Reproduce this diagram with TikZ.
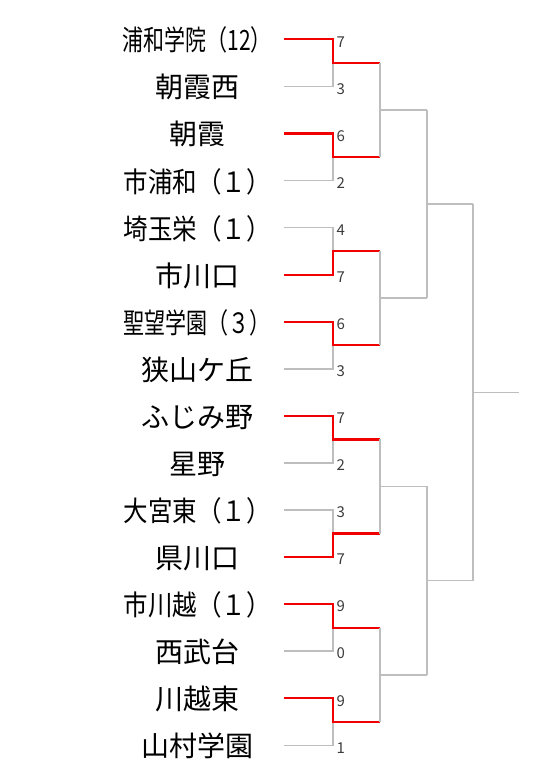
\documentclass[tikz,border=0pt]{standalone}
\usepackage{fontspec}
\setmainfont{Noto Sans CJK JP}
\usepackage{xcolor}
\usepackage{tikz}
\definecolor{wincol}{RGB}{240,0,0}
\definecolor{linecol}{RGB}{190,190,190}
\definecolor{scorecol}{RGB}{60,60,60}
\newcommand{\squeezed}[2]{\scalebox{#1}[1]{#2}}

\begin{document}
\begin{tikzpicture}[x=1pt,y=-47.07pt,
  team/.style={inner sep=0pt,minimum width=174pt,text height=26pt,text depth=3pt,font=\fontsize{28}{30}\selectfont},
  score/.style={anchor=west,inner sep=1.5pt,text=scorecol,font=\fontsize{15}{17}\selectfont},
  lose/.style={draw=linecol,line width=1.5pt},
  win/.style={draw=wincol,line width=2.3pt}]
        \useasboundingbox (0,-0.835) rectangle (552,15.502);
        \node[team] (t1) at (197,0) {\squeezed{0.75}{浦和学院（12）}};
        \node[team] (t2) at (197,1) {朝霞西};
        \node[team] (t3) at (197,2) {朝霞};
        \node[team] (t4) at (197,3) {\squeezed{0.875}{市浦和（１）}};
        \node[team] (t5) at (197,4) {\squeezed{0.875}{埼玉栄（１）}};
        \node[team] (t6) at (197,5) {市川口};
        \node[team] (t7) at (197,6) {\squeezed{0.75}{聖望学園（３）}};
        \node[team] (t8) at (197,7) {狭山ケ丘};
        \node[team] (t9) at (197,8) {ふじみ野};
        \node[team] (t10) at (197,9) {星野};
        \node[team] (t11) at (197,10) {\squeezed{0.875}{大宮東（１）}};
        \node[team] (t12) at (197,11) {県川口};
        \node[team] (t13) at (197,12) {\squeezed{0.875}{市川越（１）}};
        \node[team] (t14) at (197,13) {西武台};
        \node[team] (t15) at (197,14) {川越東};
        \node[team] (t16) at (197,15) {山村学園};
        \node[score] (s1) at (335,0.05) {7};
        \node[score] (s2) at (335,1.05) {3};
        \node[score] (s3) at (335,2.05) {6};
        \node[score] (s4) at (335,3.05) {2};
        \node[score] (s5) at (335,4.05) {4};
        \node[score] (s6) at (335,5.05) {7};
        \node[score] (s7) at (335,6.05) {6};
        \node[score] (s8) at (335,7.05) {3};
        \node[score] (s9) at (335,8.05) {7};
        \node[score] (s10) at (335,9.05) {2};
        \node[score] (s11) at (335,10.05) {3};
        \node[score] (s12) at (335,11.05) {7};
        \node[score] (s13) at (335,12.05) {9};
        \node[score] (s14) at (335,13.05) {0};
        \node[score] (s15) at (335,14.05) {9};
        \node[score] (s16) at (335,15.05) {1};
        \coordinate (m1) at (380,0.5); \coordinate (m2) at (380,2.5);
        \coordinate (m3) at (380,4.5); \coordinate (m4) at (380,6.5);
        \coordinate (m5) at (380,8.5); \coordinate (m6) at (380,10.5);
        \coordinate (m7) at (380,12.5); \coordinate (m8) at (380,14.5);
        \coordinate (n1) at (427,1.5); \coordinate (n2) at (427,5.5);
        \coordinate (n3) at (427,9.5); \coordinate (n4) at (427,13.5);
        \coordinate (o1) at (473,3.5); \coordinate (o2) at (473,11.5);
        \coordinate (f) at (519,7.5);
        \draw[lose] (t2.east) -- ++(49,0) |- (m1); \draw[win] (t1.east) -- ++(49,0) |- (m1);
        \draw[lose] (t4.east) -- ++(49,0) |- (m2); \draw[win] (t3.east) -- ++(49,0) |- (m2);
        \draw[lose] (t5.east) -- ++(49,0) |- (m3); \draw[win] (t6.east) -- ++(49,0) |- (m3);
        \draw[lose] (t8.east) -- ++(49,0) |- (m4); \draw[win] (t7.east) -- ++(49,0) |- (m4);
        \draw[lose] (t10.east) -- ++(49,0) |- (m5); \draw[win] (t9.east) -- ++(49,0) |- (m5);
        \draw[lose] (t11.east) -- ++(49,0) |- (m6); \draw[win] (t12.east) -- ++(49,0) |- (m6);
        \draw[lose] (t14.east) -- ++(49,0) |- (m7); \draw[win] (t13.east) -- ++(49,0) |- (m7);
        \draw[lose] (t16.east) -- ++(49,0) |- (m8); \draw[win] (t15.east) -- ++(49,0) |- (m8);
        \draw[lose] (m1) |- (n1); \draw[lose] (m2) |- (n1);
        \draw[lose] (m3) |- (n2); \draw[lose] (m4) |- (n2);
        \draw[lose] (m5) |- (n3); \draw[lose] (m6) |- (n3);
        \draw[lose] (m7) |- (n4); \draw[lose] (m8) |- (n4);
        \draw[lose] (n1) |- (o1); \draw[lose] (n2) |- (o1);
        \draw[lose] (n3) |- (o2); \draw[lose] (n4) |- (o2);
        \draw[lose] (o1) |- (f); \draw[lose] (o2) |- (f);
      \end{tikzpicture}
\end{document}
